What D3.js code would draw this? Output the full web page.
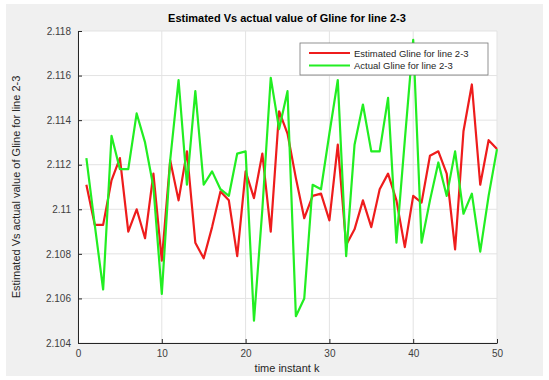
<!DOCTYPE html>
<html>
<head>
<meta charset="utf-8">
<script src="https://cdn.jsdelivr.net/npm/d3@7"></script>
<style>
  body { margin: 0; background: #fff; }
  svg { display: block; }
</style>
</head>
<body>
<svg id="chart" width="549" height="380"></svg>
<script>
// time instants k = 1..50
var k = d3.range(1, 51);

// estimated Gline (red)
var estimated = [
  2.1111, 2.1093, 2.1093, 2.1113, 2.1123, 2.1090, 2.1100, 2.1087, 2.1116, 2.1077,
  2.1122, 2.1104, 2.1126, 2.1085, 2.1078, 2.1092, 2.1108, 2.1104, 2.1079, 2.1117,
  2.1105, 2.1125, 2.1090, 2.1144, 2.1134, 2.1114, 2.1096, 2.1106, 2.1107, 2.1095,
  2.1129, 2.1084, 2.1091, 2.1104, 2.1092, 2.1109, 2.1116, 2.1104, 2.1083, 2.1106,
  2.1103, 2.1124, 2.1126, 2.1116, 2.1082, 2.1135, 2.1156, 2.1111, 2.1131, 2.1127
];

// actual Gline (green)
var actual = [
  2.1123, 2.1093, 2.1064, 2.1133, 2.1118, 2.1118, 2.1143, 2.1130, 2.1110, 2.1062,
  2.1122, 2.1158, 2.1111, 2.1153, 2.1111, 2.1117, 2.1109, 2.1106, 2.1125, 2.1126,
  2.1050, 2.1100, 2.1159, 2.1136, 2.1153, 2.1052, 2.1060, 2.1111, 2.1109, 2.1134,
  2.1158, 2.1079, 2.1129, 2.1147, 2.1126, 2.1126, 2.1150, 2.1085, 2.1131, 2.1176,
  2.1085, 2.1104, 2.1121, 2.1106, 2.1126, 2.1098, 2.1107, 2.1081, 2.1106, 2.1127
];

var xTicks = [0, 10, 20, 30, 40, 50];
var yTicks = [2.104, 2.106, 2.108, 2.11, 2.112, 2.114, 2.116, 2.118];

var series = [
  { name: "Estimated Gline for line 2-3", values: estimated, color: "#ee1c1c" },
  { name: "Actual Gline for line 2-3", values: actual, color: "#22ee22" }
];

var svg = d3.select("#chart");

// figure background (matlab grey)
svg.append("rect")
    .attr("x", 6).attr("y", 4)
    .attr("width", 537).attr("height", 372)
    .style("fill", "#f0f0f0");

var plotL = 78, plotR = 497, plotT = 31, plotB = 343;

var x = d3.scaleLinear().domain([0, 50]).range([plotL, plotR]);
var y = d3.scaleLinear().domain([2.104, 2.118]).range([plotB, plotT]);

// plot area
svg.append("rect")
    .attr("x", plotL).attr("y", plotT)
    .attr("width", plotR - plotL).attr("height", plotB - plotT)
    .style("fill", "#fff");

// grid
var grid = svg.append("g");
grid.selectAll(".gx").data(xTicks).enter().append("line")
    .attr("x1", function (d) { return x(d); })
    .attr("x2", function (d) { return x(d); })
    .attr("y1", plotT).attr("y2", plotB)
    .style("stroke", "#e3e3e3").style("stroke-width", 1);
grid.selectAll(".gy").data(yTicks).enter().append("line")
    .attr("x1", plotL).attr("x2", plotR)
    .attr("y1", function (d) { return y(d); })
    .attr("y2", function (d) { return y(d); })
    .style("stroke", "#e3e3e3").style("stroke-width", 1);

// axes
var xAxis = svg.append("g")
    .attr("transform", "translate(0," + plotB + ")")
    .call(d3.axisBottom(x).tickValues(xTicks).tickSizeInner(-4).tickSizeOuter(0).tickPadding(7));
var yAxis = svg.append("g")
    .attr("transform", "translate(" + plotL + ",0)")
    .call(d3.axisLeft(y).tickValues(yTicks).tickSizeInner(-4).tickSizeOuter(0).tickPadding(7)
        .tickFormat(function (d) { return String(+d.toFixed(3)); }));

[xAxis, yAxis].forEach(function (a) {
    a.select(".domain").style("stroke", "#262626");
    a.selectAll(".tick line").style("stroke", "#262626");
    a.selectAll("text")
        .style("font-family", "Liberation Sans, Arial, sans-serif")
        .style("font-size", "10px")
        .style("fill", "#404040");
});

// lines
var line = d3.line()
    .x(function (d, i) { return x(k[i]); })
    .y(function (d) { return y(d); });

series.forEach(function (s) {
    svg.append("path")
        .datum(s.values)
        .attr("d", line)
        .style("fill", "none")
        .style("stroke", s.color)
        .style("stroke-width", 2.2)
        .style("stroke-linejoin", "round");
});

// title
svg.append("text")
    .attr("x", 287).attr("y", 22)
    .attr("text-anchor", "middle")
    .style("font-family", "Liberation Sans, Arial, sans-serif")
    .style("font-size", "11px")
    .style("font-weight", "bold")
    .style("fill", "#000")
    .text("Estimated Vs actual value of Gline for line 2-3");

// axis labels
svg.append("text")
    .attr("x", 287).attr("y", 372)
    .attr("text-anchor", "middle")
    .style("font-family", "Liberation Sans, Arial, sans-serif")
    .style("font-size", "11px")
    .style("fill", "#262626")
    .text("time instant k");

svg.append("text")
    .attr("transform", "translate(20," + ((plotT + plotB) / 2) + ") rotate(-90)")
    .attr("text-anchor", "middle")
    .style("font-family", "Liberation Sans, Arial, sans-serif")
    .style("font-size", "11px")
    .style("fill", "#262626")
    .text("Estimated Vs actual value of Gline for line 2-3");

// legend
var legend = svg.append("g").attr("transform", "translate(300,43)");
legend.append("rect")
    .attr("width", 188).attr("height", 32)
    .style("fill", "#fff")
    .style("stroke", "#777")
    .style("stroke-width", 0.8);
series.forEach(function (s, i) {
    var g = legend.append("g").attr("transform", "translate(0," + (10 + i * 12.5) + ")");
    g.append("line")
        .attr("x1", 9).attr("x2", 50)
        .style("stroke", s.color).style("stroke-width", 2.2);
    g.append("text")
        .attr("x", 54).attr("y", 3.5)
        .style("font-family", "Liberation Sans, Arial, sans-serif")
        .style("font-size", "9.5px")
        .style("fill", "#262626")
        .text(s.name);
});
</script>
</body>
</html>
